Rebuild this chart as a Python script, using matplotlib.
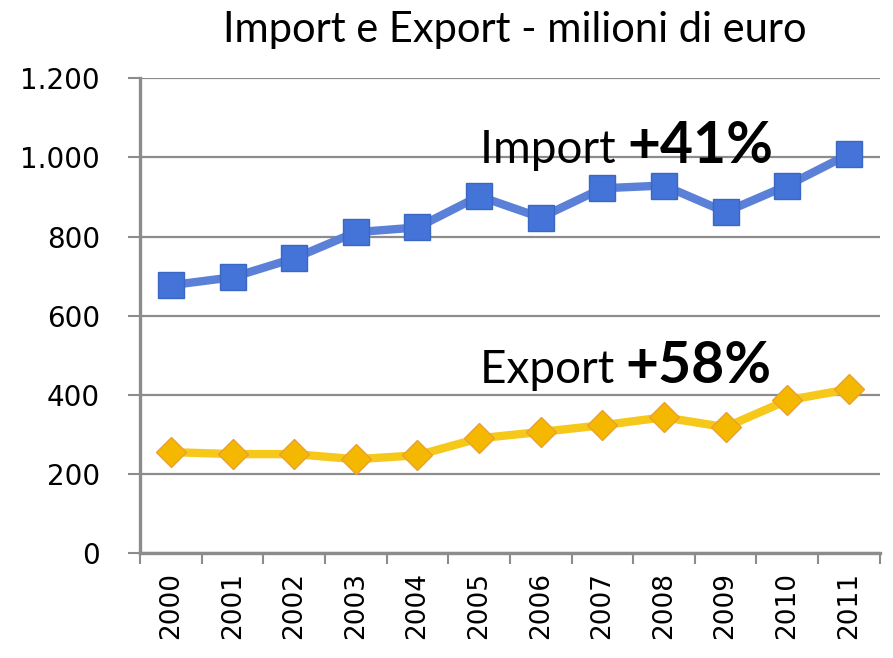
import matplotlib

matplotlib.use("Agg")
import matplotlib.pyplot as plt
import numpy as np

# values (milioni di euro)
years = ["2000", "2001", "2002", "2003", "2004", "2005",
         "2006", "2007", "2008", "2009", "2010", "2011"]
import_vals = [677, 697, 745, 811, 823, 902, 848, 922, 929, 862, 929, 1008]
export_vals = [255, 250, 250, 237, 247, 290, 306, 323, 343, 318, 386, 414]
y_ticks = [0, 200, 400, 600, 800, 1000, 1200]
y_labels = ["0", "200", "400", "600", "800", "1.000", "1.200"]

GRAY = "#8c8c8c"
BLUE_LINE = "#5a80d8"
BLUE_MARK = "#4474d8"
GOLD_LINE = "#f6c81a"
GOLD_MARK = "#f4b800"

fig = plt.figure(figsize=(8.93, 6.58), dpi=100)
ax = fig.add_axes([0.157, 0.1596, 0.828, 0.7214])

x = np.arange(len(years))
ax.plot(x, import_vals, color=BLUE_LINE, lw=6, marker="s", ms=19,
        mfc=BLUE_MARK, mec="#3a66c4", mew=1, zorder=3)
ax.plot(x, export_vals, color=GOLD_LINE, lw=6, marker="D", ms=15,
        mfc=GOLD_MARK, mec="#e8a030", mew=1, zorder=3)

ax.set_xlim(-0.5, len(years) - 0.5)
ax.set_ylim(0, 1200)
ax.set_yticks(y_ticks)
ax.set_yticklabels(y_labels, family="DejaVu Sans", fontsize=20)
ax.set_xticks(x)
ax.set_xticklabels(years, rotation=90, family="DejaVu Sans", fontsize=19)
ax.set_xticks(np.arange(-0.5, len(years)), minor=True)
ax.tick_params(axis="x", which="major", length=0, pad=14)
ax.tick_params(axis="x", which="minor", length=8, width=1.5, color=GRAY)
ax.tick_params(axis="y", length=9, width=1.5, color=GRAY, pad=20)

ax.yaxis.grid(True, color=GRAY, lw=1.6)
ax.set_axisbelow(True)
for side in ("top", "right"):
    ax.spines[side].set_visible(False)
for side in ("left", "bottom"):
    ax.spines[side].set_color(GRAY)
    ax.spines[side].set_linewidth(2.4)

fig.text(0.577, 0.955, "Import e Export - milioni di euro", ha="center",
         va="center", family="Lato", fontsize=30)


def label(xf, yf, word, pct):
    # regular word followed by a bold, bigger percentage on the same baseline
    t = ax.text(xf, yf, word + " ", transform=ax.transAxes, family="Lato",
                fontsize=33, va="baseline")
    fig.canvas.draw()
    bb = t.get_window_extent()
    xr, _ = ax.transAxes.inverted().transform((bb.x1, bb.y0))
    ax.text(xr, yf, pct, transform=ax.transAxes, family="Lato",
            fontsize=41, fontweight="bold", va="baseline")


label(0.459, 0.821, "Import", "+41%")
label(0.459, 0.358, "Export", "+58%")

fig.savefig("out.png", dpi=100)
